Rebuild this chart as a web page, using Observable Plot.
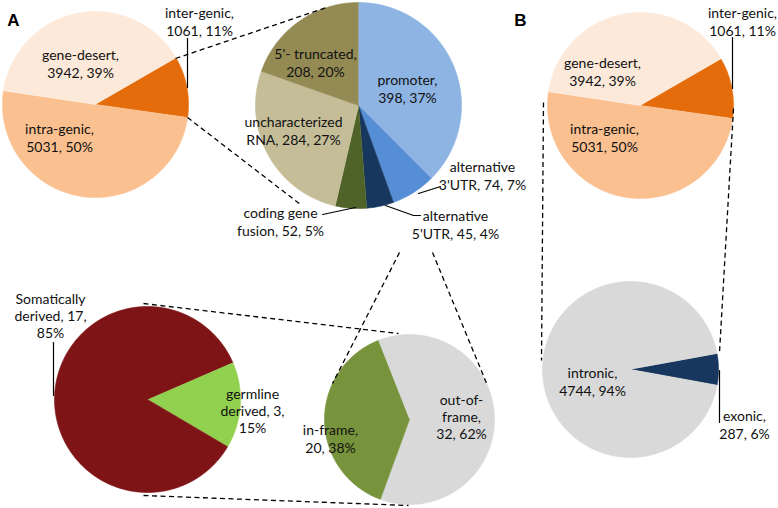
<!DOCTYPE html>
<html><head><meta charset="utf-8">
<script src="https://cdn.jsdelivr.net/npm/d3@7"></script>
<script src="https://cdn.jsdelivr.net/npm/@observablehq/plot@0.6"></script>
<style>html,body{margin:0;padding:0;background:#fff} svg{display:block}</style>
</head><body><div id="chart"></div>
<script>
// ---------- DATA ----------
// Panel A & B, genomic region of breakpoints
const regionCategories = ["inter-genic", "intra-genic", "gene-desert"];
const regionValues = [1061, 5031, 3942];
const regionPercents = ["11%", "50%", "39%"];
// Panel A, consequence of inter-genic fusions
const consequenceCategories = ["promoter", "alternative 3'UTR", "alternative 5'UTR", "coding gene fusion", "uncharacterized RNA", "5'- truncated"];
const consequenceValues = [398, 74, 45, 52, 284, 208];
const consequencePercents = ["37%", "7%", "4%", "5%", "27%", "20%"];
// Panel A, frame of coding gene fusions
const frameCategories = ["out-of-frame", "in-frame"];
const frameValues = [32, 20];
const framePercents = ["62%", "38%"];
// Panel A, origin of in-frame fusions
const originCategories = ["germline derived", "Somatically derived"];
const originValues = [3, 17];
const originPercents = ["15%", "85%"];
// Panel B, intra-genic breakpoints
const intraCategories = ["exonic", "intronic"];
const intraValues = [287, 4744];
const intraPercents = ["6%", "94%"];

// ---------- STYLE / LAYOUT ----------
const regionColors = ["#E46C0A", "#FAC090", "#FDE9D9"];
const consequenceColors = ["#8DB4E2", "#558ED5", "#17375E", "#4F6228", "#C4BD97", "#948A54"];
const frameColors = ["#D9D9D9", "#77933C"];
const originColors = ["#92D050", "#7F1416"];
const intraColors = ["#17375E", "#D9D9D9"];

// pie layouts: centre, radius, start angle (deg clockwise from 12 o'clock)
const pies = [
  {id: "A1", cats: regionCategories, vals: regionValues, colors: regionColors, cx: 95, cy: 104, r: 93, start: 60},
  {id: "A2", cats: consequenceCategories, vals: consequenceValues, colors: consequenceColors, cx: 358, cy: 105, r: 103, start: 0},
  {id: "A3", cats: originCategories, vals: originValues, colors: originColors, cx: 147, cy: 399, r: 93, start: 66.5},
  {id: "A4", cats: frameCategories, vals: frameValues, colors: frameColors, cx: 409, cy: 419, r: 85, start: 338.5},
  {id: "B1", cats: regionCategories, vals: regionValues, colors: regionColors, cx: 640, cy: 105, r: 93, start: 60},
  {id: "B2", cats: intraCategories, vals: intraValues, colors: intraColors, cx: 630, cy: 369, r: 88, start: 79.75}
];

function slicePoints(p) {
  const total = d3.sum(p.vals);
  let a = p.start;
  const pts = [];
  p.vals.forEach((v, i) => {
    const a0 = a, a1 = a + v / total * 360; a = a1;
    const id = `${p.id}-${i}`;
    const n = Math.max(2, Math.ceil(a1 - a0));
    pts.push({id, x: p.cx, y: p.cy, fill: p.colors[i]});
    for (let k = 0; k <= n; k++) {
      const t = (a0 + (a1 - a0) * k / n) * Math.PI / 180;
      pts.push({id, x: p.cx + p.r * Math.sin(t), y: p.cy - p.r * Math.cos(t), fill: p.colors[i]});
    }
  });
  return pts;
}
const slices = pies.flatMap(slicePoints);

const std = (c, v, p) => `${c},\n${v}, ${p}`;
const brk = (c, v, p) => c.replace(" ", "\n") + `, ${v}, ${p}`;
const labelSpecs = [
  // A1
  {cats: regionCategories, vals: regionValues, pcts: regionPercents, i: 2, x: 80, y: 63, fmt: std},
  {cats: regionCategories, vals: regionValues, pcts: regionPercents, i: 1, x: 59, y: 137, fmt: std},
  {cats: regionCategories, vals: regionValues, pcts: regionPercents, i: 0, x: 199, y: 21, fmt: std},
  // A2
  {cats: consequenceCategories, vals: consequenceValues, pcts: consequencePercents, i: 5, x: 315, y: 62, fmt: std},
  {cats: consequenceCategories, vals: consequenceValues, pcts: consequencePercents, i: 0, x: 407, y: 88, fmt: std},
  {cats: consequenceCategories, vals: consequenceValues, pcts: consequencePercents, i: 4, x: 293, y: 130, fmt: brk},
  {cats: consequenceCategories, vals: consequenceValues, pcts: consequencePercents, i: 1, x: 482, y: 175, fmt: brk},
  {cats: consequenceCategories, vals: consequenceValues, pcts: consequencePercents, i: 2, x: 455, y: 224, fmt: brk},
  {cats: consequenceCategories, vals: consequenceValues, pcts: consequencePercents, i: 3, x: 280, y: 221, fmt: (c, v, p) => c.replace(/ (\S+)$/, "\n$1") + `, ${v}, ${p}`},
  // A3
  {cats: originCategories, vals: originValues, pcts: originPercents, i: 1, x: 50, y: 315, fmt: (c, v, p) => c.replace(" ", "\n") + `, ${v},\n${p}`},
  {cats: originCategories, vals: originValues, pcts: originPercents, i: 0, x: 252, y: 410, fmt: (c, v, p) => c.replace(" ", "\n") + `, ${v},\n${p}`},
  // A4
  {cats: frameCategories, vals: frameValues, pcts: framePercents, i: 1, x: 330, y: 438, fmt: std},
  {cats: frameCategories, vals: frameValues, pcts: framePercents, i: 0, x: 461, y: 416, fmt: (c, v, p) => c.replace("of-", "of-\n") + `,\n${v}, ${p}`},
  // B1
  {cats: regionCategories, vals: regionValues, pcts: regionPercents, i: 2, x: 602, y: 71, fmt: std},
  {cats: regionCategories, vals: regionValues, pcts: regionPercents, i: 1, x: 604, y: 137, fmt: std},
  {cats: regionCategories, vals: regionValues, pcts: regionPercents, i: 0, x: 742, y: 21, fmt: std},
  // B2
  {cats: intraCategories, vals: intraValues, pcts: intraPercents, i: 1, x: 592, y: 381, fmt: std},
  {cats: intraCategories, vals: intraValues, pcts: intraPercents, i: 0, x: 744, y: 424, fmt: std}
];
const labels = labelSpecs.map(s => ({x: s.x, y: s.y, text: s.fmt(s.cats[s.i], s.vals[s.i], s.pcts[s.i])}));

const panelLetters = [{x: 13, y: 20, text: "A"}, {x: 520, y: 20, text: "B"}];

// dashed zoom connectors
const connectors = [
  {x1: 175, y1: 58, x2: 326, y2: 7},
  {x1: 187, y1: 117, x2: 300, y2: 204},
  {x1: 399, y1: 252, x2: 332, y2: 383},
  {x1: 432, y1: 252, x2: 487, y2: 385},
  {x1: 143, y1: 303, x2: 398, y2: 333},
  {x1: 143, y1: 495, x2: 408, y2: 505},
  {x1: 543, y1: 102, x2: 541, y2: 360},
  {x1: 733, y1: 108, x2: 719, y2: 352}
];
// leader lines
const leaders = [
  {id: 1, x: 187, y: 38}, {id: 1, x: 187, y: 87},
  {id: 2, x: 732, y: 37}, {id: 2, x: 732, y: 88},
  {id: 3, x: 418, y: 193}, {id: 3, x: 440, y: 186},
  {id: 4, x: 385, y: 205}, {id: 4, x: 413, y: 215}, {id: 4, x: 420, y: 215},
  {id: 5, x: 355, y: 207}, {id: 5, x: 322, y: 214},
  {id: 6, x: 53, y: 342}, {id: 6, x: 53, y: 395},
  {id: 7, x: 719, y: 370}, {id: 7, x: 719, y: 422}
];

const chart = Plot.plot({
  width: 778, height: 508, margin: 0,
  x: {domain: [0, 778], range: [0, 778], axis: null},
  y: {domain: [0, 508], range: [0, 508], axis: null},
  color: {type: "identity"},
  style: {fontFamily: "Lato, 'Open Sans', sans-serif", background: "#fff"},
  marks: [
    Plot.line(slices, {x: "x", y: "y", z: "id", fill: "fill", stroke: "fill", strokeWidth: 0.6, curve: "linear"}),
    Plot.link(connectors, {x1: "x1", y1: "y1", x2: "x2", y2: "y2", stroke: "#000", strokeWidth: 1.3, strokeDasharray: "5,3.5"}),
    Plot.line(leaders, {x: "x", y: "y", z: "id", stroke: "#000", strokeWidth: 1.2}),
    Plot.text(labels, {x: "x", y: "y", text: "text", fontSize: 14, lineHeight: 1.22, fill: "#111"}),
    Plot.text(panelLetters, {x: "x", y: "y", text: "text", fontSize: 17, fontWeight: "bold", fill: "#000", fontFamily: "Arial, 'Liberation Sans', sans-serif"})
  ]
});
document.getElementById("chart").appendChild(chart);
</script>
</body></html>
